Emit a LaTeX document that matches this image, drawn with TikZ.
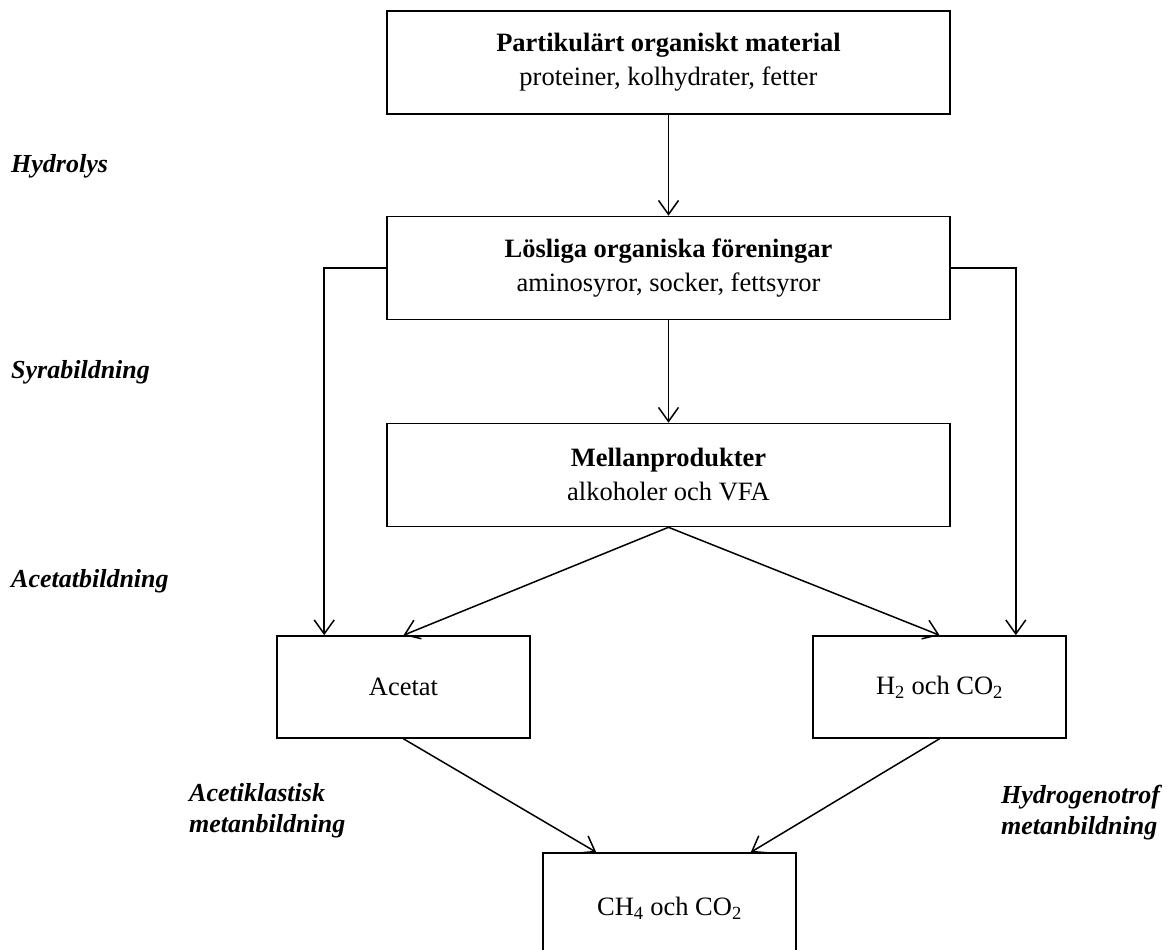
\documentclass[tikz,border=0pt]{standalone}
\usepackage{fontspec}
\setmainfont{Liberation Serif}
\usetikzlibrary{arrows.meta,calc}
\begin{document}
\begin{tikzpicture}[x=1pt,y=-1pt,
  box/.style={draw,line width=1.6pt,minimum width=563pt,minimum height=103pt,align=center,inner sep=0pt,font=\fontsize{26.5}{34}\selectfont},
  sbox/.style={draw,line width=1.6pt,minimum width=253pt,minimum height=102pt,align=center,inner sep=0pt,font=\fontsize{26.5}{34}\selectfont},
  lab/.style={anchor=west,align=left,inner sep=0pt,font=\fontsize{26}{31}\selectfont\bfseries\itshape},
  arr/.style={line width=1.5pt,-{Straight Barb[length=14pt,width=20pt,line width=1.5pt]}}]
\useasboundingbox (0,0) rectangle (1175,950);
\begin{scope}
\clip (0,0) rectangle (1175,950);
\node[box] (top) at (668.5,62.5) {\textbf{Partikulärt organiskt material}\\proteiner, kolhydrater, fetter};
\node[box] (los) at (668.5,268) {\textbf{Lösliga organiska föreningar}\\aminosyror, socker, fettsyror};
\node[box] (mel) at (668.5,475) {\textbf{Mellanprodukter}\\alkoholer och VFA};
\node[sbox] (ace) at (403.5,687) {Acetat};
\node[sbox] (hco) at (939.5,687) {H\textsubscript{2} och CO\textsubscript{2}};
\node[sbox,minimum height=110pt] (ch) at (669.5,908) {CH\textsubscript{4} och CO\textsubscript{2}};
\end{scope}
\node[lab] (l1) at (11,166) {Hydrolys};
\node[lab] (l2) at (11,372) {Syrabildning};
\node[lab] (l3) at (11,581) {Acetatbildning};
\node[lab] (l4) at (189,811) {Acetiklastisk\\metanbildning};
\node[lab] (l5) at (1001,813) {Hydrogenotrof\\metanbildning};
\draw[arr] (top.south) -- (los.north);
\draw[arr] (los.south) -- (mel.north);
\coordinate (aL) at ($(ace.north west)+(48,0)$);
\coordinate (hR) at ($(hco.north east)+(-51,0)$);
\draw[arr] (los.west) -| (aL);
\draw[arr] (los.east) -| (hR);
\draw[arr] (mel.south) -- (ace.north);
\draw[arr] (mel.south) -- (hco.north);
\coordinate (cL) at ($(ch.north west)+(54,0)$);
\coordinate (cR) at ($(ch.north east)+(-46,0)$);
\draw[arr] (ace.south) -- (cL);
\draw[arr] (hco.south) -- (cR);
\end{tikzpicture}
\end{document}
